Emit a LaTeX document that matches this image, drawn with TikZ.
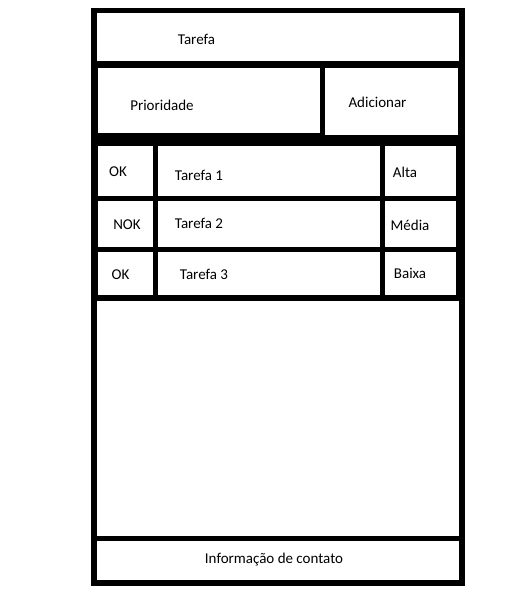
\documentclass[tikz,border=0pt]{standalone}
\usepackage{fontspec}
\setmainfont{Carlito}
\begin{document}
\begin{tikzpicture}[x=1pt,y=-1pt,
  lbl/.style={inner sep=0pt,font=\fontsize{15}{18}\selectfont,text=black},
  cell/.style={fill=white}]
\useasboundingbox (0,0) rectangle (523,610);
% outer frame
\fill[black] (91,8) rectangle (465,586);
% white cells
\fill[cell] (97,13) rectangle (459,61);
\fill[cell] (98,68) rectangle (320,133);
\fill[cell] (325,68) rectangle (458,135);
\fill[cell] (98,146) rectangle (153,196);
\fill[cell] (158,146) rectangle (380,196);
\fill[cell] (385,146) rectangle (456,196);
\fill[cell] (98,201) rectangle (153,247);
\fill[cell] (158,201) rectangle (380,247);
\fill[cell] (385,201) rectangle (456,247);
\fill[cell] (98,252) rectangle (153,295);
\fill[cell] (158,252) rectangle (380,295);
\fill[cell] (385,252) rectangle (456,295);
\fill[cell] (97,301) rectangle (459,536);
\fill[cell] (97,541) rectangle (459,580);
% labels
\node[lbl] (tarefa) at (196.5,39) {Tarefa};
\node[lbl] (prio) at (162,105) {Prioridade};
\node[lbl] (add) at (377.5,102) {Adicionar};
\node[lbl] (ok1) at (118,171.5) {OK};
\node[lbl] (t1) at (199,175) {Tarefa 1};
\node[lbl] (alta) at (405,172) {Alta};
\node[lbl] (nok) at (127,224.5) {NOK};
\node[lbl] (t2) at (199,223) {Tarefa 2};
\node[lbl] (media) at (410,225.5) {Média};
\node[lbl] (ok3) at (120.5,274.5) {OK};
\node[lbl] (t3) at (204,274.5) {Tarefa 3};
\node[lbl] (baixa) at (410,273.5) {Baixa};
\node[lbl] (contato) at (274,560) {Informação de contato};
\end{tikzpicture}
\end{document}
